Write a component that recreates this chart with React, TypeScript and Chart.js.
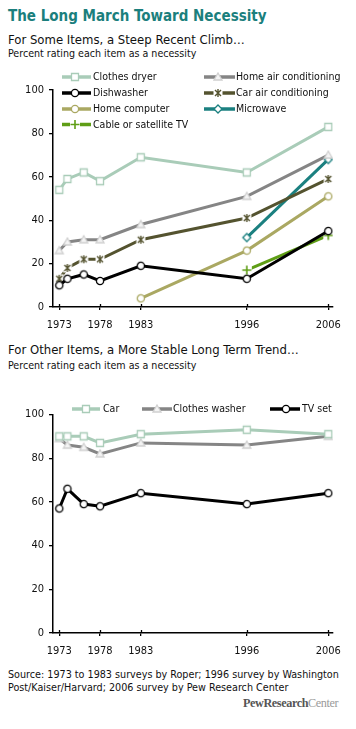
import React, { useEffect, useRef } from "react";
import { Chart, registerables } from "chart.js";
Chart.register(...registerables);

// ---- Data ----
const years = [1973, 1974, 1976, 1978, 1983, 1996, 2006];
const tickYears = [1973, 1978, 1983, 1996, 2006];
const yTicks = [0, 20, 40, 60, 80, 100];

const clothesDryer = [54, 59, 62, 58, 69, 62, 83];
const homeAirConditioning = [26, 30, 31, 31, 38, 51, 70];
const carAirConditioning = [13, 18, 22, 22, 31, 41, 59];
const dishwasher = [10, 13, 15, 12, 19, 13, 35];
const homeComputer = [null, null, null, null, 4, 26, 51];
const microwave = [null, null, null, null, null, 32, 68];
const cableOrSatelliteTV = [null, null, null, null, null, 17, 33];

const car = [90, 90, 90, 87, 91, 93, 91];
const clothesWasher = [89, 86, 85, 82, 87, 86, 90];
const tvSet = [57, 66, 59, 58, 64, 59, 64];

const FONT = "'DejaVu Sans Condensed', 'DejaVu Sans', sans-serif";

type Marker = "square" | "triangle" | "circle" | "diamond" | "star" | "plus";

function drawMarker(ctx: CanvasRenderingContext2D, kind: Marker, cx: number, cy: number, color: string) {
  ctx.save();
  ctx.lineWidth = 1.3;
  ctx.strokeStyle = color;
  ctx.fillStyle = "#fff";
  ctx.beginPath();
  if (kind === "square") {
    ctx.rect(cx - 3.5, cy - 3.5, 7, 7);
    ctx.fill();
    ctx.stroke();
  } else if (kind === "triangle") {
    ctx.fillStyle = "#f4f4f4";
    ctx.strokeStyle = "#d0d0d0";
    ctx.moveTo(cx, cy - 4);
    ctx.lineTo(cx + 4, cy + 3);
    ctx.lineTo(cx - 4, cy + 3);
    ctx.closePath();
    ctx.fill();
    ctx.stroke();
  } else if (kind === "circle") {
    ctx.arc(cx, cy, 3.6, 0, Math.PI * 2);
    ctx.fill();
    ctx.stroke();
  } else if (kind === "diamond") {
    ctx.moveTo(cx, cy - 4);
    ctx.lineTo(cx + 4, cy);
    ctx.lineTo(cx, cy + 4);
    ctx.lineTo(cx - 4, cy);
    ctx.closePath();
    ctx.fill();
    ctx.stroke();
  } else if (kind === "star") {
    ctx.fillRect(cx - 4.5, cy - 4.5, 9, 9);
    ctx.beginPath();
    ctx.lineWidth = 1.4;
    ctx.moveTo(cx - 3, cy - 3);
    ctx.lineTo(cx + 3, cy + 3);
    ctx.moveTo(cx + 3, cy - 3);
    ctx.lineTo(cx - 3, cy + 3);
    ctx.moveTo(cx, cy - 4);
    ctx.lineTo(cx, cy + 4);
    ctx.stroke();
  } else if (kind === "plus") {
    ctx.fillRect(cx - 5, cy - 5, 10, 10);
    ctx.beginPath();
    ctx.lineWidth = 1.6;
    ctx.moveTo(cx - 4.5, cy);
    ctx.lineTo(cx + 4.5, cy);
    ctx.moveTo(cx, cy - 4.5);
    ctx.lineTo(cx, cy + 4.5);
    ctx.stroke();
  }
  ctx.restore();
}

function markerCanvas(kind: Marker, color: string): HTMLCanvasElement {
  const c = document.createElement("canvas");
  c.width = 12;
  c.height = 12;
  const ctx = c.getContext("2d")!;
  drawMarker(ctx, kind, 6, 6, color);
  return c;
}

type Series = { label: string; data: (number | null)[]; color: string; marker: Marker };

const topSeries: Series[] = [
  { label: "Clothes dryer", data: clothesDryer, color: "#a9ccb8", marker: "square" },
  { label: "Home air conditioning", data: homeAirConditioning, color: "#858585", marker: "triangle" },
  { label: "Dishwasher", data: dishwasher, color: "#000000", marker: "circle" },
  { label: "Car air conditioning", data: carAirConditioning, color: "#54532f", marker: "star" },
  { label: "Home computer", data: homeComputer, color: "#aaa862", marker: "circle" },
  { label: "Microwave", data: microwave, color: "#1b8080", marker: "diamond" },
  { label: "Cable or satellite TV", data: cableOrSatelliteTV, color: "#5f9e16", marker: "plus" },
];

const bottomSeries: Series[] = [
  { label: "Car", data: car, color: "#a9ccb8", marker: "square" },
  { label: "Clothes washer", data: clothesWasher, color: "#858585", marker: "triangle" },
  { label: "TV set", data: tvSet, color: "#000000", marker: "circle" },
];

type LegendPos = { x1: number; x2: number; mx: number; tx: number; y: number };

function makeChart(
  canvas: HTMLCanvasElement,
  series: Series[],
  legendPos: LegendPos[],
  padTop: number,
  axisH: number
) {
  const markers = series.map((s) => markerCanvas(s.marker, s.color));
  const datasets = series.map((s, i) => ({
    label: s.label,
    data: years.map((yr, j) => ({ x: yr, y: s.data[j] })),
    borderColor: s.color,
    backgroundColor: s.color,
    borderWidth: 3,
    tension: 0,
    spanGaps: false,
    pointStyle: markers[i],
    pointRadius: 4,
  }));
  const extras = {
    id: "extras",
    afterDraw(chart: any) {
      const ctx = chart.ctx as CanvasRenderingContext2D;
      const xs = chart.scales.x;
      const bottom = chart.chartArea.bottom;
      ctx.save();
      ctx.strokeStyle = "#000";
      ctx.lineWidth = 1.3;
      tickYears.forEach((v) => {
        const px = Math.round(xs.getPixelForValue(v)) + 0.5;
        ctx.beginPath();
        ctx.moveTo(px, bottom - 3);
        ctx.lineTo(px, bottom);
        ctx.stroke();
      });
      // legend
      ctx.font = `10.5px ${FONT}`;
      ctx.textBaseline = "middle";
      ctx.fillStyle = "#111";
      series.forEach((s, i) => {
        const p = legendPos[i];
        ctx.strokeStyle = s.color;
        ctx.lineWidth = 3.5;
        ctx.beginPath();
        ctx.moveTo(p.x1, p.y);
        ctx.lineTo(p.x2, p.y);
        ctx.stroke();
        drawMarker(ctx, s.marker, p.mx, p.y, s.color);
        ctx.fillStyle = "#111";
        ctx.fillText(s.label, p.tx, p.y + 0.5);
      });
      ctx.restore();
    },
  };
  return new Chart(canvas, {
    type: "line",
    data: { datasets } as any,
    plugins: [extras],
    options: {
      animation: false,
      responsive: false,
      maintainAspectRatio: false,
      layout: { padding: { top: padTop, right: 23, left: 0, bottom: 0 } },
      plugins: { legend: { display: false }, tooltip: { enabled: false }, title: { display: false } },
      scales: {
        x: {
          type: "linear",
          min: 1972.23,
          max: 2006.58,
          afterBuildTicks: (s: any) => {
            s.ticks = tickYears.map((v) => ({ value: v }));
          },
          afterFit: (s: any) => {
            s.height = axisH;
          },
          grid: { drawOnChartArea: false, drawTicks: true, tickLength: 3, color: "#000", lineWidth: 1.3 },
          border: { display: true, color: "#000", width: 1.5 },
          ticks: {
            font: { family: FONT, size: 11 },
            color: "#111",
            padding: 9,
            autoSkip: false,
            maxRotation: 0,
            callback: (v: any) => String(v),
          },
        },
        y: {
          min: 0,
          max: 100,
          afterBuildTicks: (s: any) => {
            s.ticks = yTicks.map((v) => ({ value: v }));
          },
          afterFit: (s: any) => {
            s.width = 53;
          },
          grid: { drawOnChartArea: false, drawTicks: true, tickLength: 4, color: "#000", lineWidth: 1.3 },
          border: { display: true, color: "#000", width: 1.5 },
          ticks: {
            font: { family: FONT, size: 11 },
            color: "#111",
            padding: 5,
            callback: (v: any) => String(v),
          },
        },
      },
    } as any,
  });
}

const topLegend: LegendPos[] = [
  { x1: 62, x2: 91, mx: 75, tx: 93, y: 17 },
  { x1: 204, x2: 235, mx: 218, tx: 236, y: 17 },
  { x1: 62, x2: 91, mx: 75, tx: 93, y: 33 },
  { x1: 204, x2: 235, mx: 218, tx: 236, y: 33 },
  { x1: 62, x2: 91, mx: 75, tx: 93, y: 49 },
  { x1: 204, x2: 235, mx: 218, tx: 236, y: 49 },
  { x1: 62, x2: 91, mx: 75, tx: 93, y: 64.5 },
];

const bottomLegend: LegendPos[] = [
  { x1: 72, x2: 100, mx: 86, tx: 103, y: 19 },
  { x1: 142, x2: 172, mx: 157, tx: 173, y: 19 },
  { x1: 270, x2: 300, mx: 286, tx: 302, y: 19 },
];

export default function App() {
  const topRef = useRef<HTMLCanvasElement>(null);
  const botRef = useRef<HTMLCanvasElement>(null);
  useEffect(() => {
    const c1 = makeChart(topRef.current!, topSeries, topLegend, 30, 33);
    const c2 = makeChart(botRef.current!, bottomSeries, bottomLegend, 24.5, 33);
    return () => {
      c1.destroy();
      c2.destroy();
    };
  }, []);
  const txt = (top: number, size: number, extra: any = {}) => ({
    position: "absolute" as const,
    left: 8,
    top,
    fontFamily: FONT,
    fontSize: size,
    lineHeight: 1,
    whiteSpace: "nowrap" as const,
    color: "#111",
    margin: 0,
    ...extra,
  });
  return (
    <div style={{ position: "absolute", left: 0, top: 0, width: 356, height: 729, background: "#fff", overflow: "hidden" }}>
      <div style={txt(9, 15, { fontWeight: "bold", color: "#1b7f7d" })}>The Long March Toward Necessity</div>
      <div style={txt(32.5, 13)}>For Some Items, a Steep Recent Climb…</div>
      <div style={txt(48, 10.6)}>Percent rating each item as a necessity</div>
      <canvas ref={topRef} width={356} height={280} style={{ position: "absolute", left: 0, top: 60, width: 356, height: 280 }} />
      <div style={txt(342.5, 13)}>For Other Items, a More Stable Long Term Trend…</div>
      <div style={txt(359.5, 10.6)}>Percent rating each item as a necessity</div>
      <canvas ref={botRef} width={356} height={276} style={{ position: "absolute", left: 0, top: 390, width: 356, height: 276 }} />
      <div style={txt(669.3, 10.7, { lineHeight: "12.4px" })}>
        Source: 1973 to 1983 surveys by Roper; 1996 survey by Washington
        <br />
        Post/Kaiser/Harvard; 2006 survey by Pew Research Center
      </div>
      <div
        style={{
          position: "absolute",
          left: 243,
          top: 697,
          fontFamily: "'Liberation Serif', 'DejaVu Serif', serif",
          fontSize: 12.2,
          lineHeight: 1,
          whiteSpace: "nowrap",
          letterSpacing: -0.4,
        }}
      >
        <span style={{ color: "#555", fontWeight: "bold" }}>PewResearch</span>
        <span style={{ color: "#9a9a9a" }}>Center</span>
      </div>
    </div>
  );
}
